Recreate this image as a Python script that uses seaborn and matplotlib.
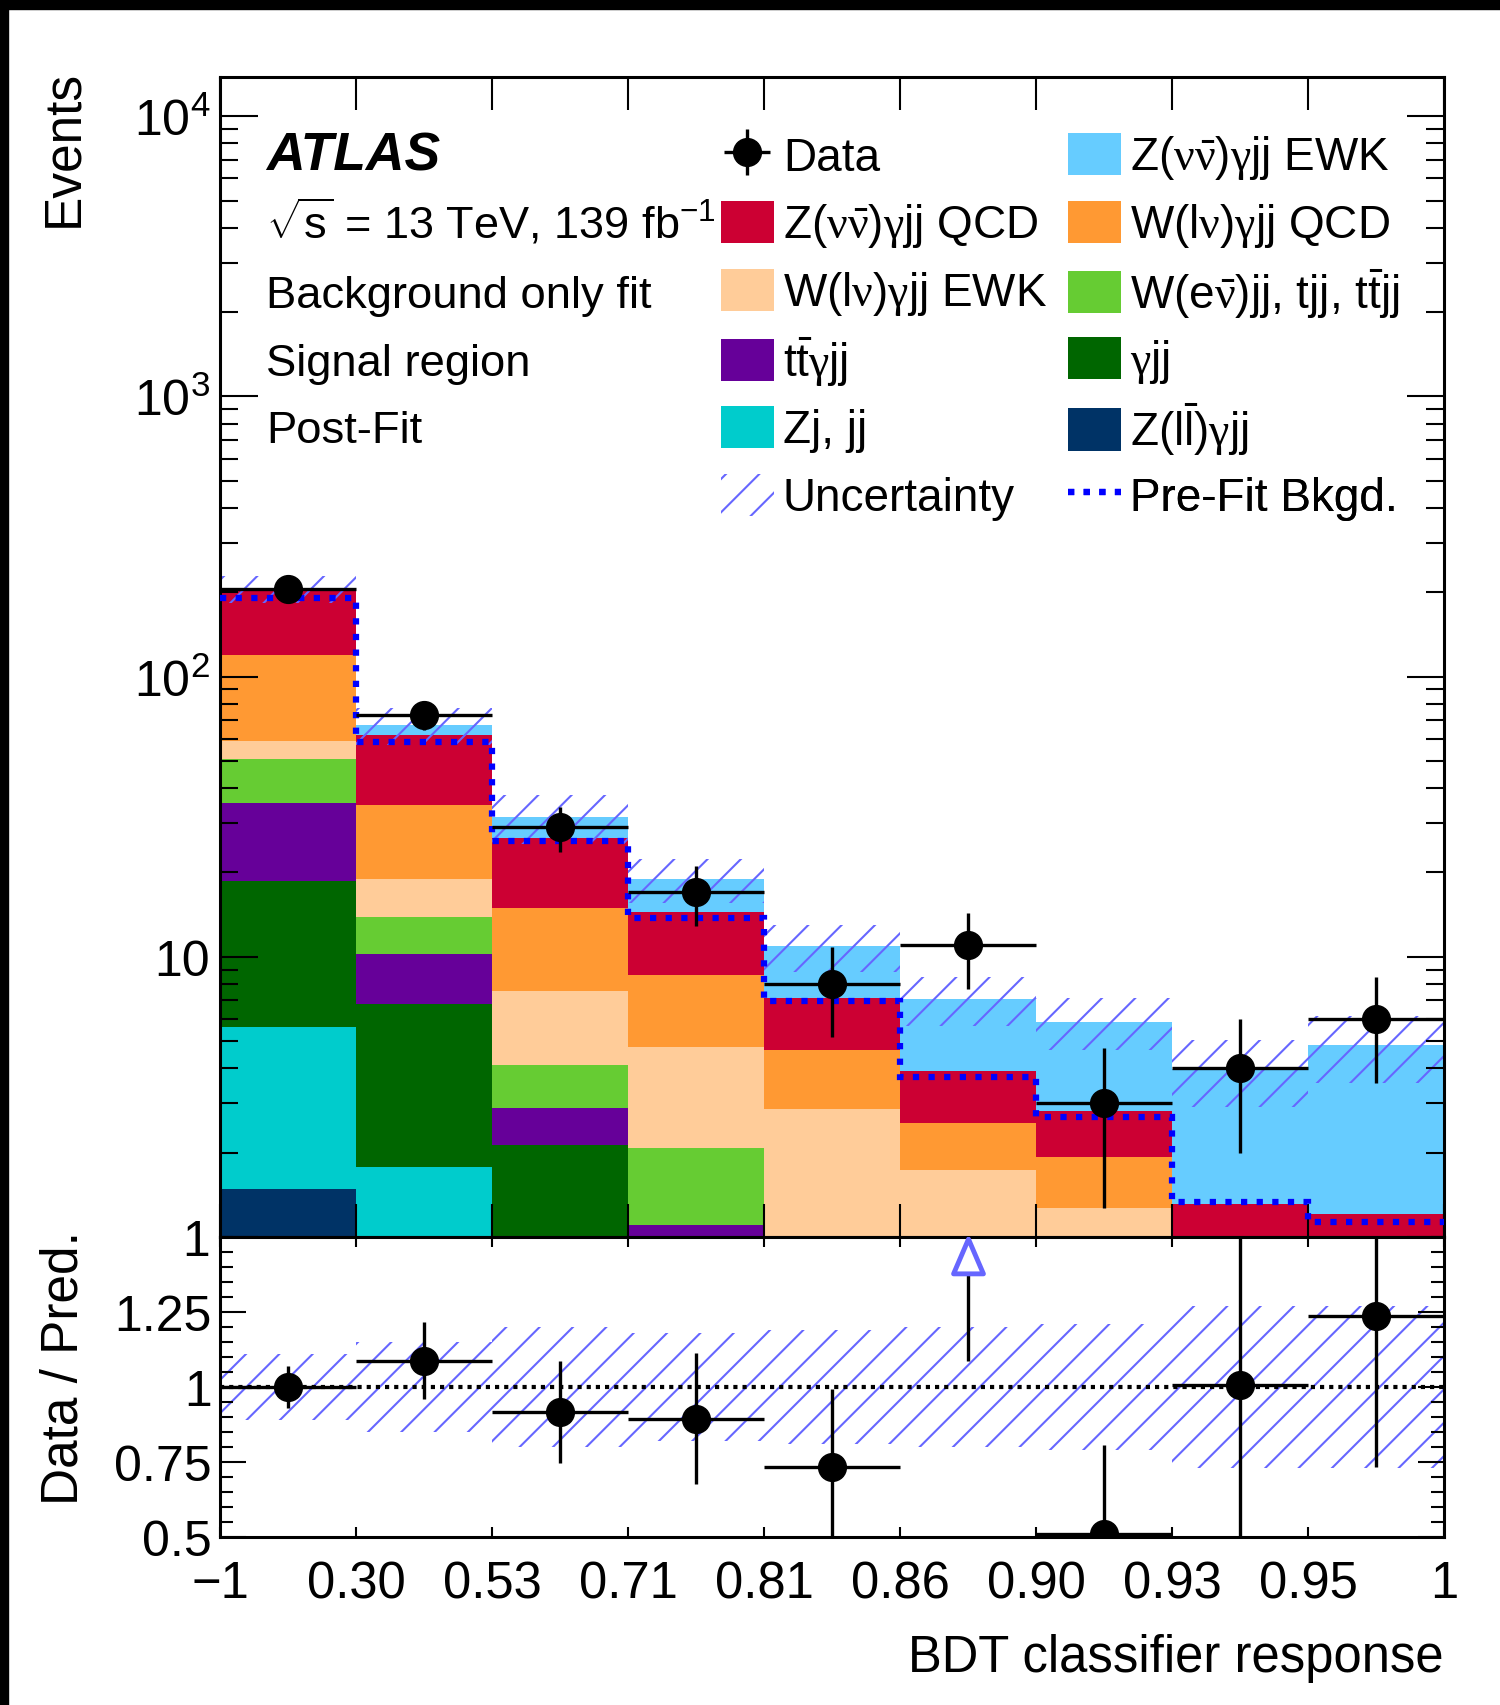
import numpy as np
import pandas as pd
import matplotlib
matplotlib.use("Agg")
import matplotlib.pyplot as plt
import seaborn as sns
from matplotlib.patches import Patch, Rectangle
from matplotlib.lines import Line2D
from matplotlib.path import Path
from matplotlib.ticker import LogLocator, NullFormatter, MultipleLocator

# ---------------------------------------------------------------- data
bin_labels = ["\u22121", "0.30", "0.53", "0.71", "0.81", "0.86", "0.90", "0.93", "0.95", "1"]

# post-fit yields per BDT bin, listed from top of the stack to the bottom
z_ewk    = [2.5, 5.4, 5.0, 4.5, 3.76, 3.18, 3.06, 2.67, 3.64]
z_qcd    = [82.8, 26.8, 11.65, 5.88, 2.49, 1.35, 0.88, 0.51, 0.51]
w_qcd    = [60.8, 15.9, 7.4, 3.85, 1.78, 0.81, 0.66, 0.30, 0.30]
w_ewk    = [8.1, 5.1, 3.43, 2.70, 2.07, 1.33, 1.05, 0.30, 0.27]
w_enu    = [15.6, 3.7, 1.23, 0.97, 0.38, 0.20, 0.10, 0.10, 0.05]
ttgamma  = [16.7, 3.43, 0.76, 0.30, 0.10, 0.05, 0.03, 0.02, 0.02]
gamma_jj = [12.97, 4.99, 1.63, 0.62, 0.20, 0.10, 0.05, 0.05, 0.03]
zj_jj    = [4.15, 1.33, 0.42, 0.15, 0.10, 0.05, 0.03, 0.02, 0.02]
z_ll     = [1.48, 0.45, 0.08, 0.03, 0.02, 0.01, 0.01, 0.01, 0.01]

data_counts = [205, 73, 29, 17, 8, 11, 3, 4, 6]
prefit_bkg  = [191, 58.2, 25.8, 13.8, 6.98, 3.73, 2.69, 1.33, 1.13]
rel_unc     = [0.11, 0.15, 0.20, 0.18, 0.19, 0.20, 0.21, 0.27, 0.27]

process_labels = [
    r"Z($\mathtt{\nu}\bar{\mathtt{\nu}}$)$\mathtt{\gamma}$jj EWK",
    r"Z($\mathtt{\nu}\bar{\mathtt{\nu}}$)$\mathtt{\gamma}$jj QCD",
    r"W(l$\mathtt{\nu}$)$\mathtt{\gamma}$jj QCD",
    r"W(l$\mathtt{\nu}$)$\mathtt{\gamma}$jj EWK",
    r"W(e$\bar{\mathtt{\nu}}$)jj, tjj, t$\mathrm{\bar{t}}$jj",
    r"t$\mathrm{\bar{t}}\mathtt{\gamma}$jj",
    r"$\mathtt{\gamma}$jj",
    "Zj, jj",
    r"Z(l$\mathrm{\bar{l}}$)$\mathtt{\gamma}$jj",
]
process_yields = [z_ewk, z_qcd, w_qcd, w_ewk, w_enu, ttgamma, gamma_jj, zj_jj, z_ll]
process_colors = ["#66ccff", "#cc0033", "#ff9933", "#ffcc99", "#66cc33",
                  "#660099", "#006600", "#00cccc", "#003366"]
hatch_color = "#6666ff"

# ---------------------------------------------------------------- style
sns.set_theme(style="ticks")
plt.rcParams.update({
    "mathtext.fontset": "custom",
    "mathtext.rm": "Liberation Sans",
    "mathtext.it": "Liberation Sans:italic",
    "mathtext.bf": "Liberation Sans:bold",
    "mathtext.tt": "Liberation Serif",
    "hatch.linewidth": 1.5,
    "axes.linewidth": 2.2,
    "axes.edgecolor": "black",
    "xtick.color": "black",
    "ytick.color": "black",
    "text.color": "black",
})
plt.rcParams["font.family"] = ["Liberation Sans", "DejaVu Sans"]

W, H = 1500, 1706
AX_TOP, AX_BOT = 78, 1238
fig = plt.figure(figsize=(W / 100, H / 100), dpi=100)
ax = fig.add_axes([220 / W, 1 - AX_BOT / H, 1224 / W, (AX_BOT - AX_TOP) / H])
rax = fig.add_axes([220 / W, 1 - 1538 / H, 1224 / W, 300 / H], sharex=ax)

n_bins = len(bin_labels) - 1
edges = np.arange(n_bins + 1)
centers = edges[:-1] + 0.5

df = pd.concat(
    [pd.DataFrame({"bin": centers, "events": vals, "process": name})
     for name, vals in zip(process_labels, process_yields)],
    ignore_index=True,
)

ax.set_yscale("log")
sns.histplot(data=df, x="bin", weights="events", hue="process",
             hue_order=process_labels, palette=process_colors,
             multiple="stack", binwidth=1, binrange=(0, n_bins), element="bars",
             fill=True, alpha=1, linewidth=0, antialiased=False, legend=False, ax=ax)

total = np.sum(np.array(process_yields), axis=0)
unc = np.array(rel_unc)
data = np.array(data_counts, dtype=float)
derr = np.sqrt(data)

ax.stairs(total * (1 + unc), edges, baseline=total * (1 - unc), fill=True,
          facecolor="none", edgecolor=hatch_color, hatch="/", linewidth=0, zorder=2)
ax.stairs(prefit_bkg, edges, baseline=None, color="#0000ff",
          linewidth=4.5, linestyle=(0, (1, 1.5)), zorder=3)
eb = ax.errorbar(centers, data, xerr=0.5, yerr=derr, fmt="o", color="black",
                 ms=20, elinewidth=2.4, capsize=0, zorder=4)

ax.set_xlim(0, n_bins)
ax.set_ylim(1, 1.38e4)
ax.set_yticks([1, 10, 100, 1000, 10000])
ax.set_yticklabels(["1", "10", r"$10^{2}$", r"$10^{3}$", r"$10^{4}$"])
ax.yaxis.set_minor_locator(LogLocator(base=10, subs=np.arange(2, 10)))
ax.yaxis.set_minor_formatter(NullFormatter())
ax.set_xticks(edges)
ax.set_xlabel("")
ax.set_ylabel("")
ax.set_axisbelow(False)
ax.tick_params(axis="x", which="major", direction="in", length=24, width=1.5,
               top=True, bottom=True, labelbottom=False)
ax.tick_params(axis="y", which="major", direction="in", length=27, width=1.5,
               left=True, right=True, labelsize=36, pad=7)
ax.tick_params(axis="y", which="minor", direction="in", length=13, width=1.5,
               left=True, right=True)
ax.tick_params(axis="x", which="minor", bottom=False, top=False)

# ratio panel
rax.stairs(1 + unc, edges, baseline=1 - unc, fill=True, facecolor="none",
           edgecolor=hatch_color, hatch="/", linewidth=0, zorder=1)
rax.axhline(1, color="black", linewidth=3, linestyle=(0, (1, 1.2)), zorder=2)
ratio = data / total
rerr = derr / total
r_lo, r_hi = 0.5, 1.5
inside = ratio <= r_hi
rax.errorbar(centers[inside], ratio[inside], xerr=0.5, yerr=rerr[inside],
             fmt="o", color="black", ms=20, elinewidth=2.4, capsize=0, zorder=4)
arrow = Path([(0, 1), (-0.86, -1), (0.86, -1), (0, 1)],
             [Path.MOVETO, Path.LINETO, Path.LINETO, Path.CLOSEPOLY])
for c, r, e in zip(centers[~inside], ratio[~inside], rerr[~inside]):
    rax.vlines(c, r - e, r_hi - 0.123, color="black", linewidth=2.4, zorder=4)
    rax.plot([c], [r_hi - 0.064], marker=arrow, ms=25, mfc="white",
             mec=hatch_color, mew=3.5, linestyle="none", zorder=5)

rax.set_ylim(r_lo, r_hi)
rax.set_yticks([0.5, 0.75, 1.0, 1.25])
rax.set_yticklabels(["0.5", "0.75", "1", "1.25"])
rax.yaxis.set_minor_locator(MultipleLocator(0.05))
rax.set_xticks(edges)
rax.set_xticklabels(bin_labels)
rax.set_xlabel("")
rax.set_ylabel("")
rax.tick_params(axis="x", which="major", direction="in", length=7, width=1.5,
                top=True, bottom=True, labelsize=36.5, pad=16)
rax.tick_params(axis="x", which="minor", bottom=False, top=False)
rax.tick_params(axis="y", which="major", direction="in", length=19, width=1.5,
                left=True, right=True, labelsize=36, pad=6)
rax.tick_params(axis="y", which="minor", direction="in", length=9.5, width=1.5,
                left=True, right=True)
rax.set_axisbelow(False)

# axis titles
fig.text(64 / W, 1 - 70 / H, "Events", rotation=90, ha="center", va="top", fontsize=37)
fig.text(64 / W, 1 - 1231 / H, "Data / Pred.", rotation=90, ha="center", va="top", fontsize=37)
fig.text(1444 / W, 1 - 1672 / H, "BDT classifier response", ha="right",
         va="baseline", fontsize=36.5)

# labels in the upper-left corner
tx = 0.0376
ax.text(tx, 0.920, "ATLAS", transform=ax.transAxes, fontsize=38.5,
        fontweight="bold", fontstyle="italic", va="baseline")
ax.text(tx, 0.862, r"$\sqrt{\mathrm{s}}$ = 13 TeV, 139 fb$^{\mathrm{-1}}$",
        transform=ax.transAxes, fontsize=32.5, va="baseline")
ax.text(tx, 0.8017, "Background only fit", transform=ax.transAxes, fontsize=32.7, va="baseline")
ax.text(tx, 0.743, "Signal region", transform=ax.transAxes, fontsize=32.7, va="baseline")
ax.text(tx, 0.685, "Post-Fit", transform=ax.transAxes, fontsize=32.7, va="baseline")

# legend: two columns, each entry placed on its own row
patches = [Patch(facecolor=c, edgecolor="none") for c in process_colors]
unc_handle = Patch(facecolor="none", edgecolor=hatch_color, hatch="/", linewidth=0)
pre_handle = Line2D([], [], color="#0000ff", linewidth=4.5, linestyle=(0, (1, 1.5)))

col1 = [(eb, "Data"), (patches[1], process_labels[1]), (patches[3], process_labels[3]),
        (patches[5], process_labels[5]), (patches[7], process_labels[7]),
        (unc_handle, "Uncertainty")]
col2 = [(patches[0], process_labels[0]), (patches[2], process_labels[2]),
        (patches[4], process_labels[4]), (patches[6], process_labels[6]),
        (patches[8], process_labels[8]), (pre_handle, "Pre-Fit Bkgd.")]

row_px = [158, 226, 294, 362, 430, 498]
col_px = [721, 1068]
leg_kw = dict(loc="center left", frameon=False, fontsize=33, handlelength=1.15,
              handleheight=1.05, handletextpad=0.2, borderpad=0, borderaxespad=0)
for cx, entries in zip(col_px, [col1, col2]):
    for ry, (h, l) in zip(row_px, entries):
        leg = ax.legend([h], [l], bbox_to_anchor=((cx - 220) / 1224,
                                                  1 - (ry - AX_TOP) / (AX_BOT - AX_TOP)),
                        **leg_kw)
        ax.add_artist(leg)

# frame strips along the top and left edges
fig.patches.append(Rectangle((0, 1 - 10 / H), 1, 10 / H, transform=fig.transFigure,
                             color="black", zorder=10))
fig.patches.append(Rectangle((0, 0), 8 / W, 1, transform=fig.transFigure,
                             color="black", zorder=10))

fig.savefig("out.png", dpi=100)
